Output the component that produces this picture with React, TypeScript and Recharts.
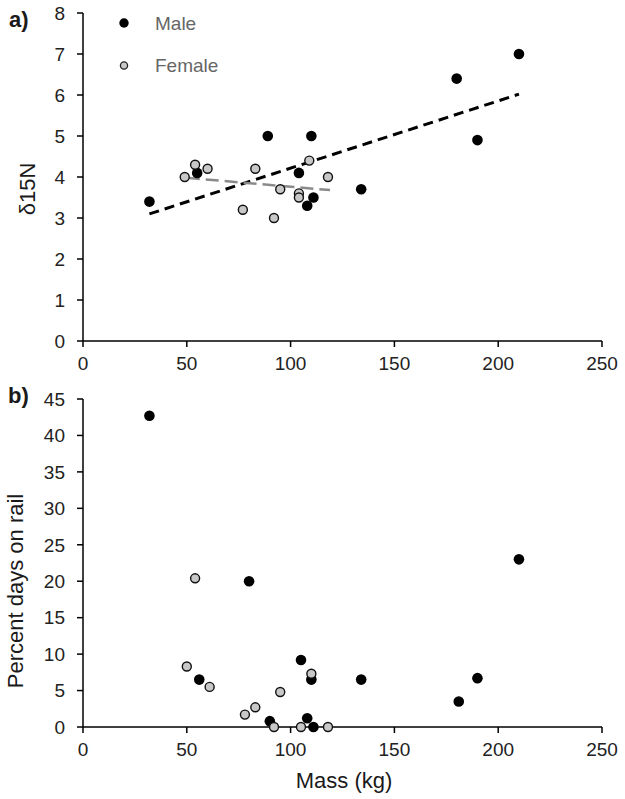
import { ScatterChart, Scatter, XAxis, YAxis, ReferenceLine, Legend } from 'recharts'

const massTicks = [0, 50, 100, 150, 200, 250]
const d15nTicks = [0, 1, 2, 3, 4, 5, 6, 7, 8]
const railTicks = [0, 5, 10, 15, 20, 25, 30, 35, 40, 45]
const legendOrder = ['Male', 'Female']

// panel a) – δ15N vs mass
const maleMassA = [32, 55, 89, 104, 108, 110, 111, 134, 180, 190, 210]
const maleD15N = [3.4, 4.1, 5.0, 4.1, 3.3, 5.0, 3.5, 3.7, 6.4, 4.9, 7.0]
const femaleMassA = [49, 54, 60, 77, 83, 92, 95, 104, 104, 109, 118]
const femaleD15N = [4.0, 4.3, 4.2, 3.2, 4.2, 3.0, 3.7, 3.6, 3.5, 4.4, 4.0]

const maleTrendMass = [32, 210]
const maleTrendD15N = [3.1, 6.02]
const femaleTrendMass = [50, 119]
const femaleTrendD15N = [3.98, 3.68]

// panel b) – percent days on rail vs mass
const maleMassB = [32, 56, 80, 90, 105, 108, 110, 111, 134, 181, 190, 210]
const maleRail = [42.7, 6.5, 20.0, 0.8, 9.2, 1.2, 6.5, 0, 6.5, 3.5, 6.7, 23.0]
const femaleMassB = [50, 54, 61, 78, 83, 92, 95, 105, 110, 118]
const femaleRail = [8.3, 20.4, 5.5, 1.7, 2.7, 0, 4.8, 0, 7.3, 0]

const zip = (xs: number[], ys: number[]) => xs.map((x, i) => ({ mass: x, value: ys[i] }))
const seg = (xs: number[], ys: number[]) => xs.map((x, i) => ({ x, y: ys[i] }))

const FONT = '"Liberation Sans", Arial, sans-serif'
const tick = { fill: '#222', fontSize: 19, fontFamily: FONT }
const axisLine = { stroke: '#000', strokeWidth: 1.5 }

const MaleDot = (p: any) => <circle cx={p.cx} cy={p.cy} r={5.3} fill="#000" />
const FemaleDot = (p: any) => (
  <circle cx={p.cx} cy={p.cy} r={4.5} fill="#c8c8c8" stroke="#111" strokeWidth={1.4} />
)

function SexLegend({ payload }: any) {
  const items = [...(payload ?? [])].sort(
    (a: any, b: any) => legendOrder.indexOf(a.value) - legendOrder.indexOf(b.value)
  )
  return (
    <svg width={150} height={72}>
      {items.map((entry: any, i: number) => (
        <g key={entry.value} transform={`translate(0, ${i * 42.5})`}>
          {entry.value === 'Male' ? (
            <circle cx={14} cy={17} r={4.7} fill="#000" />
          ) : (
            <circle cx={14} cy={17} r={3.6} fill="#c8c8c8" stroke="#222" strokeWidth={1.3} />
          )}
          <text x={45} y={17} dy="0.36em" fill="#666" fontSize={19} fontFamily={FONT}>
            {entry.value}
          </text>
        </g>
      ))}
    </svg>
  )
}

export default function App() {
  return (
    <div style={{ position: 'fixed', left: 0, top: 0, width: 625, height: 799, background: '#fff' }}>
      <div style={{ position: 'absolute', left: 0, top: 0 }}>
        <ScatterChart width={625} height={380} margin={{ top: 13, right: 23, bottom: 0, left: 0 }}>
          <XAxis
            type="number" dataKey="mass" domain={[0, 250]} ticks={massTicks}
            height={39} tick={tick} axisLine={axisLine} tickLine={axisLine}
            tickSize={6} tickMargin={10} interval={0}
          />
          <YAxis
            type="number" dataKey="value" domain={[0, 8]} ticks={d15nTicks}
            width={83} tick={tick} axisLine={axisLine} tickLine={axisLine}
            tickSize={6} tickMargin={12} interval={0}
          />
          <Scatter name="Male" data={zip(maleMassA, maleD15N)} fill="#000" shape={MaleDot} isAnimationActive={false} />
          <Scatter name="Female" data={zip(femaleMassA, femaleD15N)} fill="#c8c8c8" shape={FemaleDot} isAnimationActive={false} />
          <ReferenceLine segment={seg(maleTrendMass, maleTrendD15N)} stroke="#000" strokeWidth={3} strokeDasharray="10 6" />
          <ReferenceLine segment={seg(femaleTrendMass, femaleTrendD15N)} stroke="#8a8a8a" strokeWidth={2.5} strokeDasharray="13 6" />
          <Legend
            layout="vertical" align="center" verticalAlign="middle"
            wrapperStyle={{ position: 'absolute', top: 6, left: 110, width: 150 }}
            content={SexLegend}
          />
        </ScatterChart>
      </div>

      <div style={{ position: 'absolute', left: 0, top: 380 }}>
        <ScatterChart width={625} height={419} margin={{ top: 19, right: 23, bottom: 0, left: 0 }}>
          <XAxis
            type="number" dataKey="mass" domain={[0, 250]} ticks={massTicks}
            height={72} tick={tick} axisLine={axisLine} tickLine={axisLine}
            tickSize={6} tickMargin={10} interval={0}
          />
          <YAxis
            type="number" dataKey="value" domain={[0, 45]} ticks={railTicks}
            width={83} tick={tick} axisLine={axisLine} tickLine={axisLine}
            tickSize={6} tickMargin={12} interval={0}
          />
          <Scatter name="Male" data={zip(maleMassB, maleRail)} fill="#000" shape={MaleDot} isAnimationActive={false} />
          <Scatter name="Female" data={zip(femaleMassB, femaleRail)} fill="#c8c8c8" shape={FemaleDot} isAnimationActive={false} />
        </ScatterChart>
      </div>

      <svg width={625} height={799} style={{ position: 'absolute', left: 0, top: 0, pointerEvents: 'none' }}>
        <g fontFamily={FONT} fill="#1a1a1a">
          <text x={9} y={27} fontSize={22} fontWeight="bold">a)</text>
          <text x={8} y={403} fontSize={22} fontWeight="bold">b)</text>
          <text transform="translate(35, 189) rotate(-90)" textAnchor="middle" fontSize={22}>δ15N</text>
          <text transform="translate(23, 591) rotate(-90)" textAnchor="middle" fontSize={22}>Percent days on rail</text>
          <text x={344} y={788} textAnchor="middle" fontSize={22}>Mass (kg)</text>
        </g>
      </svg>
    </div>
  )
}
